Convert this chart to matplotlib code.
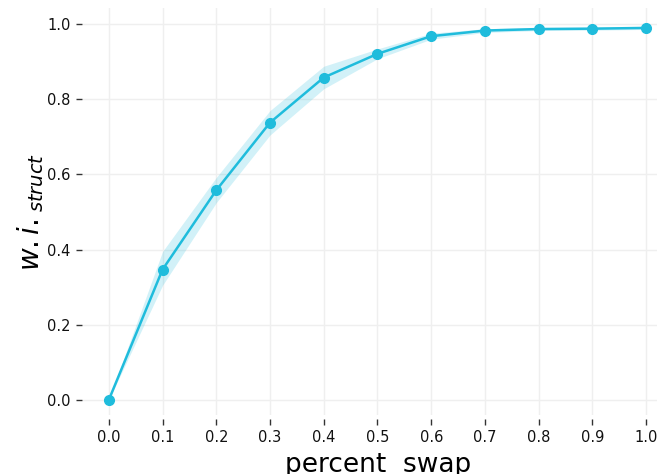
import matplotlib
matplotlib.use("Agg")
import matplotlib.pyplot as plt
import numpy as np

x = [0.0, 0.1, 0.2, 0.3, 0.4, 0.5, 0.6, 0.7, 0.8, 0.9, 1.0]
mean = [0.0, 0.347, 0.558, 0.738, 0.858, 0.921, 0.968, 0.983, 0.987, 0.988, 0.990]
lower = [0.0, 0.305, 0.525, 0.705, 0.828, 0.908, 0.960, 0.978, 0.983, 0.984, 0.986]
upper = [0.0, 0.395, 0.592, 0.770, 0.888, 0.934, 0.976, 0.988, 0.991, 0.992, 0.994]
xticks = [0.0, 0.1, 0.2, 0.3, 0.4, 0.5, 0.6, 0.7, 0.8, 0.9, 1.0]
yticks = [0.0, 0.2, 0.4, 0.6, 0.8, 1.0]

color = "#1fbcdc"

fig = plt.figure(figsize=(6.57, 4.74), dpi=100)
ax = fig.add_axes([83/657, 1 - 415/474, (673 - 83)/657, (415 - 8)/474])

ax.fill_between(x, lower, upper, color=color, alpha=0.2, linewidth=0)
ax.plot(x, mean, color=color, linewidth=1.8, marker="o", markersize=7)

ax.set_xlim(-0.048, 1.05)
ax.set_ylim(-0.04, 1.043)
ax.set_xticks(xticks)
ax.set_yticks(yticks)
ax.set_xticklabels([f"{v:.1f}" for v in xticks])
ax.set_yticklabels([f"{v:.1f}" for v in yticks])

ax.grid(True, color="#efefef", linewidth=1.0)
ax.set_axisbelow(True)
for s in ax.spines.values():
    s.set_visible(False)
ax.spines["left"].set_position(("outward", 1))
ax.spines["bottom"].set_position(("outward", 3))
ax.tick_params(axis="both", direction="out", length=4, width=1, color="#333333",
               labelsize=10.5, labelcolor="#111111", pad=4)

ax.set_xlabel("percent  swap", fontsize=19, labelpad=5)
ax.set_ylabel(r"$w.i._{struct}$", fontsize=20, labelpad=1)

fig.savefig("out.png", dpi=100)
